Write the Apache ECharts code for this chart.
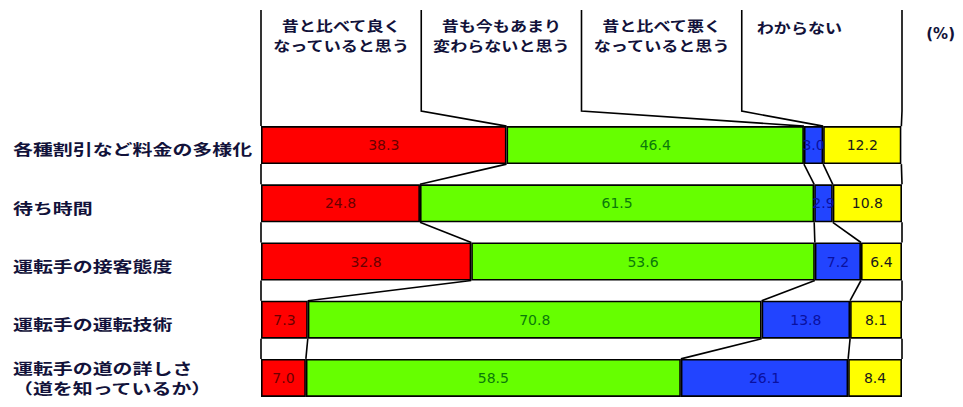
<!DOCTYPE html>
<html>
<head>
<meta charset="utf-8">
<script src="https://cdn.jsdelivr.net/npm/echarts@6/dist/echarts.min.js"></script>
<style>
  html, body { margin: 0; padding: 0; background: #ffffff; }
  #chart { width: 963px; height: 407px; }
</style>
</head>
<body>
<div id="chart"></div>
<script>
// Survey items (rows, top to bottom)
const categories = [
  '各種割引など料金の多様化',
  '待ち時間',
  '運転手の接客態度',
  '運転手の運転技術',
  '運転手の道の詳しさ\n（道を知っているか）'
];

// Answer shares in percent, one array per answer
const better  = [38.3, 24.8, 32.8, 7.3, 7.0];
const same    = [46.4, 61.5, 53.6, 70.8, 58.5];
const worse   = [3.0, 2.9, 7.2, 13.8, 26.1];
const unknown = [12.2, 10.8, 6.4, 8.1, 8.4];

// Answer headings shown above the columns
const answerNames = [
  '昔と比べて良く\nなっていると思う',
  '昔も今もあまり\n変わらないと思う',
  '昔と比べて悪く\nなっていると思う',
  'わからない'
];
const unitLabel = '(%)';

const seriesValues = [better, same, worse, unknown];
const fillColors  = ['#ff0000', '#66ff00', '#2244ff', '#ffff00'];
const labelColors = ['#6a0000', '#0a7a0a', '#0a10a0', '#1a1a1a'];

const BAR_H = 38;
const JP_FONT = '"Noto Sans CJK JP", "Noto Sans", sans-serif';
const TEXT_DARK = '#12123a';

// Boundaries of the stacked segments of one row: 0, b, b+s, b+s+w, total
function boundaries(i) {
  const out = [0];
  let acc = 0;
  seriesValues.forEach(arr => { acc += arr[i]; out.push(+acc.toFixed(1)); });
  return out;
}

const rowItems = categories.map((_, i) => [0, i]);

const barSeries = seriesValues.map((arr, k) => ({
  name: answerNames[k],
  type: 'bar',
  stack: 'total',
  barWidth: BAR_H,
  data: arr,
  itemStyle: { color: fillColors[k], borderColor: '#000', borderWidth: 1.6 },
  label: {
    show: true,
    position: 'inside',
    formatter: p => p.value.toFixed(1),
    color: labelColors[k],
    fontFamily: '"DejaVu Sans", sans-serif',
    fontSize: 14,
    fontWeight: 'normal'
  },
  z: 2
}));

// Header bracket lines, answer headings and the connectors between rows
function renderConnectors(params, api) {
  const idx = params.dataIndex;
  const children = [];
  const lineStyle = { stroke: '#000', lineWidth: 1.6, fill: null };
  if (idx === 0) {
    const first = boundaries(0);
    const barTop = api.coord([0, 0])[1] - BAR_H / 2;
    const yTop = 10;
    const knee = barTop - 15;
    for (let k = 0; k <= 4; k++) {
      const x0 = api.coord([25 * k, 0])[0];
      const x1 = api.coord([first[k], 0])[0];
      children.push({
        type: 'polyline',
        shape: { points: [[x0, yTop], [x0, knee], [x1, barTop]] },
        style: lineStyle
      });
    }
    const headCenters = [12.5, 37.5, 62.5, 84];
    const headY = [15, 15, 15, 17];
    answerNames.forEach((name, k) => {
      children.push({
        type: 'text',
        x: api.coord([headCenters[k], 0])[0],
        y: headY[k],
        scaleX: 1.22,
        originX: 0,
        originY: 0,
        style: {
          text: name,
          x: 0, y: 0,
          fill: TEXT_DARK,
          font: 'bold 14px ' + JP_FONT,
          lineHeight: 20,
          align: 'center', textAlign: 'center',
          verticalAlign: 'top', textVerticalAlign: 'top'
        }
      });
    });
  } else {
    const upper = boundaries(idx - 1);
    const lower = boundaries(idx);
    for (let k = 0; k <= 4; k++) {
      const p1 = api.coord([upper[k], idx - 1]);
      const p2 = api.coord([lower[k], idx]);
      children.push({
        type: 'polyline',
        shape: { points: [[p1[0], p1[1] + BAR_H / 2], [p2[0], p2[1] - BAR_H / 2]] },
        style: lineStyle
      });
    }
  }
  return { type: 'group', children };
}

// Row names on the left
function renderRowNames(params, api) {
  const i = params.dataIndex;
  const cy = api.coord([0, i])[1];
  const multi = categories[i].indexOf('\n') >= 0;
  return {
    type: 'text',
    x: 13,
    y: cy + (multi ? 0 : 4),
    scaleX: 1.33,
    originX: 0,
    originY: 0,
    style: {
      text: categories[i],
      x: 0, y: 0,
      fill: TEXT_DARK,
      font: 'bold 15px ' + JP_FONT,
      lineHeight: 20,
      align: 'left', textAlign: 'left',
      verticalAlign: 'middle', textVerticalAlign: 'middle'
    }
  };
}

const chart = echarts.init(document.getElementById('chart'), null, { renderer: 'svg' });

chart.setOption({
  backgroundColor: '#ffffff',
  animation: false,
  title: {
    text: unitLabel,
    right: 3,
    top: 21,
    textStyle: { fontFamily: '"DejaVu Sans", sans-serif', fontSize: 15, fontWeight: 'bold', color: TEXT_DARK }
  },
  grid: { left: 261, right: 61, top: 116, height: 293, containLabel: false },
  xAxis: { type: 'value', min: 0, max: 100, show: false },
  yAxis: { type: 'category', data: categories, inverse: true, show: false },
  series: [
    ...barSeries,
    {
      type: 'custom',
      name: 'connectors',
      coordinateSystem: 'cartesian2d',
      clip: false,
      silent: true,
      encode: { x: 0, y: 1 },
      data: rowItems,
      renderItem: renderConnectors,
      z: 3
    },
    {
      type: 'custom',
      name: 'rowNames',
      coordinateSystem: 'cartesian2d',
      clip: false,
      silent: true,
      encode: { x: 0, y: 1 },
      data: rowItems,
      renderItem: renderRowNames,
      z: 3
    }
  ]
});
</script>
</body>
</html>
